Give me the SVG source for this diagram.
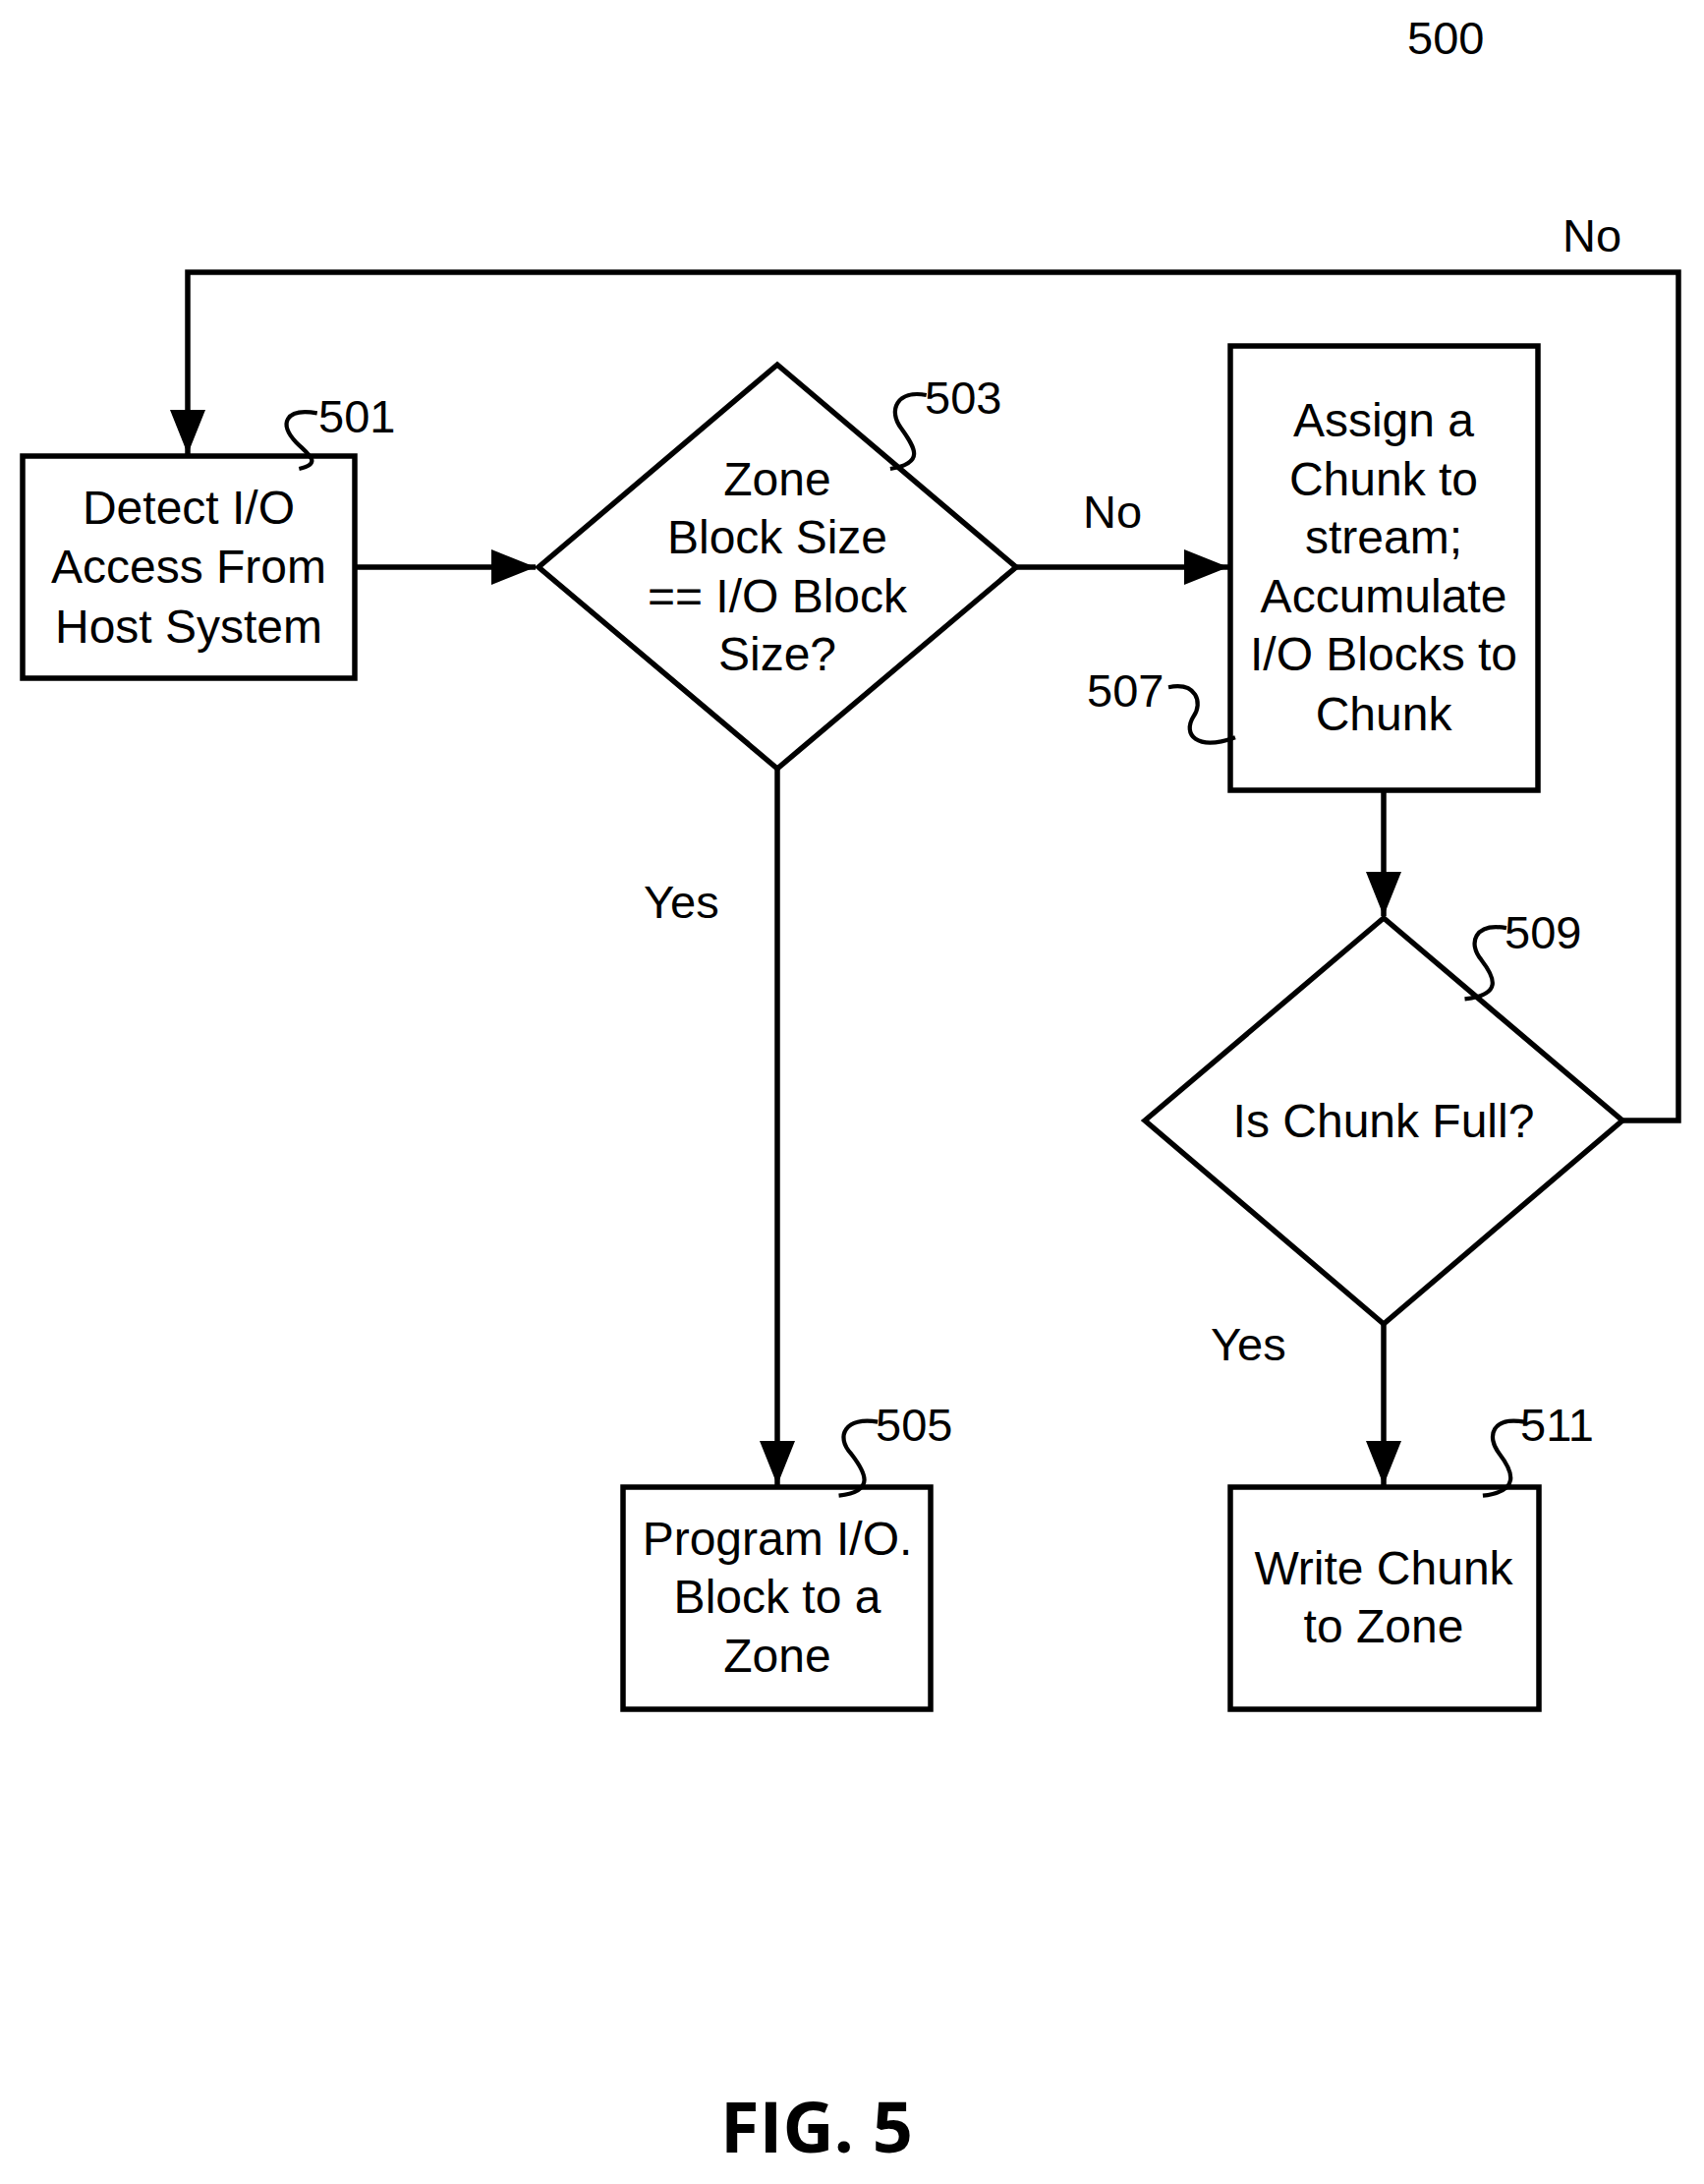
<svg xmlns="http://www.w3.org/2000/svg" width="1734" height="2222" viewBox="0 0 1734 2222">
<style>
.s{fill:#fff;stroke:#000;stroke-width:5.5}
.t{font-family:"Liberation Sans",Arial,sans-serif;font-size:48px;text-anchor:middle;fill:#000}
.n{font-family:"Liberation Sans",Arial,sans-serif;font-size:47px;fill:#000}
.c{fill:none;stroke:#000;stroke-width:5.5}
.q{fill:none;stroke:#000;stroke-width:3}
</style>
<defs>
<marker id="b" viewBox="0 0 10 8" refX="10" refY="4" markerWidth="50" markerHeight="36" orient="auto" markerUnits="userSpaceOnUse"><path d="M0,0 L10,4 L0,8 z" fill="#000"/></marker></defs>
<rect width="1734" height="2222" fill="#fff"/>
<text class="n" x="1432" y="55">500</text>
<g id="connectors">
<polyline class="c" points="361,577 545,577" marker-end="url(#b)"/>
<polyline class="c" points="1034,577 1250,577" marker-end="url(#b)"/>
<polyline class="c" points="791,782 791,1511" marker-end="url(#b)"/>
<polyline class="c" points="1408,804 1408,932" marker-end="url(#b)"/>
<polyline class="c" points="1408,1347 1408,1511" marker-end="url(#b)"/>
<polyline class="c" points="1651,1140 1708,1140 1708,277 191,277 191,462" marker-end="url(#b)"/>
<text class="n" x="1590" y="256">No</text>
<text class="n" x="1102" y="537">No</text>
<text class="n" x="655" y="934">Yes</text>
<text class="n" x="1232" y="1384">Yes</text>
</g>
<g id="n501"><rect class="s" x="23" y="464" width="338" height="226"/>
<text class="t" x="192" y="533">Detect I/O</text><text class="t" x="192" y="593">Access From</text><text class="t" x="192" y="654">Host System</text></g>
<g id="n503"><polygon class="s" points="548,577 791,371 1034,577 791,782"/>
<text class="t" x="791" y="504">Zone</text><text class="t" x="791" y="563">Block Size</text><text class="t" x="791" y="623">== I/O Block</text><text class="t" x="791" y="682">Size?</text></g>
<g id="n507"><rect class="s" x="1252" y="352" width="313" height="452"/>
<text class="t" x="1408" y="444">Assign a</text><text class="t" x="1408" y="504">Chunk to</text><text class="t" x="1408" y="563">stream;</text><text class="t" x="1408" y="623">Accumulate</text><text class="t" x="1408" y="682">I/O Blocks to</text><text class="t" x="1408" y="743">Chunk</text></g>
<g id="n509"><polygon class="s" points="1165,1140 1408,934 1651,1140 1408,1347"/>
<text class="t" x="1408" y="1157">Is Chunk Full?</text></g>
<g id="n505"><rect class="s" x="634" y="1513" width="313" height="226"/>
<text class="t" x="791" y="1582">Program I/O.</text><text class="t" x="791" y="1641">Block to a</text><text class="t" x="791" y="1701">Zone</text></g>
<g id="n511"><rect class="s" x="1252" y="1513" width="314" height="226"/>
<text class="t" x="1408" y="1612">Write Chunk</text><text class="t" x="1408" y="1671">to Zone</text></g>
<g id="refs">
<text class="n" x="324" y="440">501</text>
<text class="n" x="941" y="421">503</text>
<text class="n" x="891" y="1466">505</text>
<text class="n" x="1106" y="719">507</text>
<text class="n" x="1531" y="965">509</text>
<text class="n" x="1547" y="1466">511</text>
<g transform="scale(1.4155)">
<path class="q" d="M228,297 C205,293 200,305 213,318 C222,327 232,333 215,337"/>
<path class="q" d="M666,284 C645,280 638,295 648,308 C658,322 665,333 640,337"/>
<path class="q" d="M631,1022 C608,1018 600,1032 612,1045 C622,1058 630,1072 603,1075"/>
<path class="q" d="M840,494 C860,490 865,505 858,515 C850,528 860,540 888,530"/>
<path class="q" d="M1083,667 C1060,663 1055,678 1065,690 C1075,703 1080,715 1053,718"/>
<path class="q" d="M1096,1022 C1073,1018 1068,1032 1078,1045 C1088,1058 1093,1072 1066,1075"/>
</g></g>
<text x="831" y="2190" style="font-family:'Open Sans','Liberation Sans',sans-serif;font-weight:bold;font-size:72px;text-anchor:middle">FIG. 5</text>
</svg>
